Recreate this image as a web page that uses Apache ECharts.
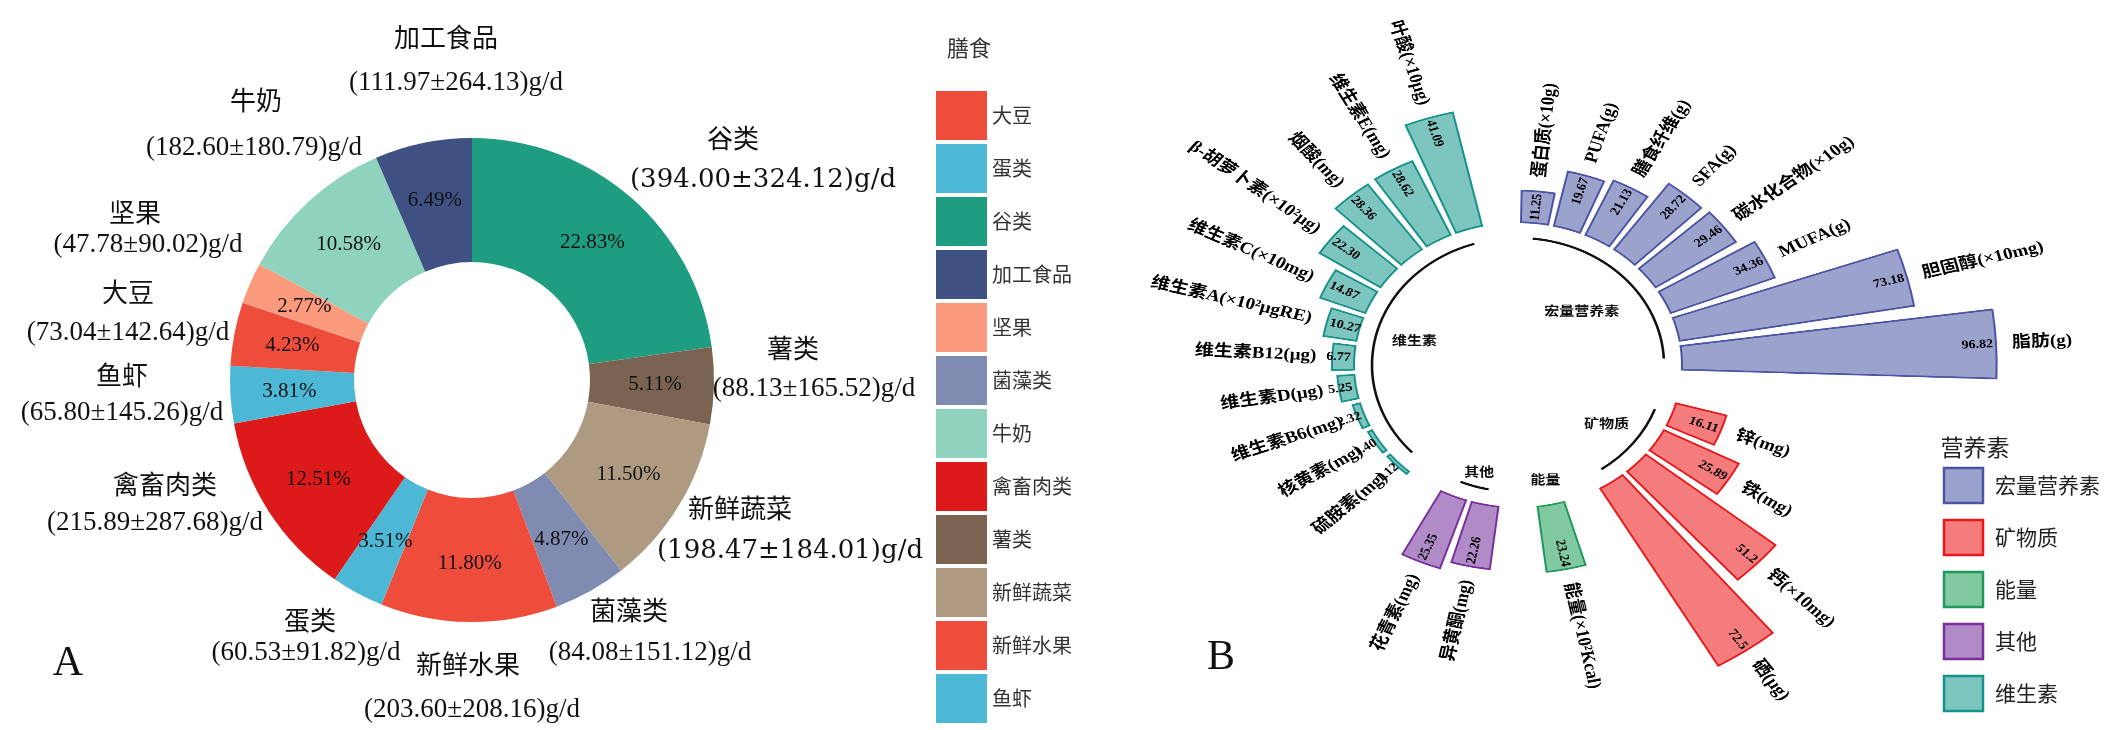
<!DOCTYPE html>
<html><head><meta charset="utf-8">
<script src="https://cdn.jsdelivr.net/npm/echarts@6/dist/echarts.min.js"></script>
<style>
html,body{margin:0;padding:0;background:#fff;overflow:hidden;width:2109px;height:730px;}
#a{position:absolute;left:0;top:0;width:2109px;height:730px;}
#b{position:absolute;left:1100px;top:-100px;width:1009px;height:930px;transform:scaleY(0.87);transform-origin:0 465px;}
</style></head><body>
<div id="a"></div><div id="b"></div>
<script>
// ---------------- Panel A data ----------------
const foodNames = ['谷类','薯类','新鲜蔬菜','菌藻类','新鲜水果','蛋类','禽畜肉类','鱼虾','大豆','坚果','牛奶','加工食品'];
const foodMeans = [394.00, 88.13, 198.47, 84.08, 203.60, 60.53, 215.89, 65.80, 73.04, 47.78, 182.60, 111.97];
const foodSDs   = [324.12, 165.52, 184.01, 151.12, 208.16, 91.82, 287.68, 145.26, 142.64, 90.02, 180.79, 264.13];
const foodLegendOrder = ['大豆','蛋类','谷类','加工食品','坚果','菌藻类','牛奶','禽畜肉类','薯类','新鲜蔬菜','新鲜水果','鱼虾'];

// ---------------- Panel B data ----------------
const macroNames = ['蛋白质(×10g)','PUFA(g)','膳食纤维(g)','SFA(g)','碳水化合物(×10g)','MUFA(g)','胆固醇(×10mg)','脂肪(g)'];
const macroValues = ['11.25','19.67','21.13','28.72','29.46','34.36','73.18','96.82'];
const mineralNames = ['锌(mg)','铁(mg)','钙(×10mg)','硒(μg)'];
const mineralValues = ['16.11','25.89','51.2','72.5'];
const energyNames = ['能量(×10²Kcal)'];
const energyValues = ['23.24'];
const otherNames = ['异黄酮(mg)','花青素(mg)'];
const otherValues = ['22.26','25.35'];
const vitaminNames = ['硫胺素(mg)','核黄素(mg)','维生素B6(mg)','维生素D(μg)','维生素B12(μg)','维生素A(×10²μgRE)','维生素C(×10mg)','β-胡萝卜素(×10²μg)','烟酸(mg)','维生素E(mg)','叶酸(×10μg)'];
const vitaminValues = ['1.12','1.40','2.32','5.25','6.77','10.27','14.87','22.30','28.36','28.62','41.09'];
const groupNames = ['宏量营养素','矿物质','能量','其他','维生素'];

// ---------------- styles / layout ----------------
const SERIF = "'Liberation Serif','Noto Sans CJK SC',serif";
const WIDESERIF = "'DejaVu Serif','Noto Sans CJK SC',serif";
const foodColors = {'谷类':'#1f9d80','薯类':'#7a6350','新鲜蔬菜':'#ad9a80','菌藻类':'#7f8bb0','新鲜水果':'#ef4d3c','蛋类':'#4db8d6','禽畜肉类':'#dd1a1a','鱼虾':'#4db8d6','大豆':'#ef4d3c','坚果':'#fc9a7e','牛奶':'#8fd3bf','加工食品':'#3f5183'};
// label anchor layout: [nameX, nameY, valueX, valueY, valueFont]
const foodLabelLayout = {
  '谷类':[733,141,763,180,"26px "+WIDESERIF], '薯类':[793,351,814,389], '新鲜蔬菜':[740,511,790,551,"26px "+WIDESERIF], '菌藻类':[629,613,650,653],
  '新鲜水果':[468,667,472,710], '蛋类':[310,623,306,653], '禽畜肉类':[165,487,155,523], '鱼虾':[122,378,122,413],
  '大豆':[128,295,128,333], '坚果':[135,215,148,245], '牛奶':[256,103,254,148], '加工食品':[446,40,456,83]
};
const groupStyle = [
  {fill:'#9ba2cb', stroke:'#4b55a3'},
  {fill:'#f47c7c', stroke:'#e8191b'},
  {fill:'#80c9a1', stroke:'#21995b'},
  {fill:'#b18bc7', stroke:'#7a2f9b'},
  {fill:'#7dc5bf', stroke:'#17928b'}
];
const groupLabelRadius = [88, 112, 136, 130, 107];

// ---------------- Panel A ----------------
const foodTotal = foodMeans.reduce((a,b)=>a+b,0);
const chartA = echarts.init(document.getElementById('a'));
const gA = [];
foodNames.forEach((n,i)=>{
  const L = foodLabelLayout[n];
  gA.push({type:'text', x:L[0], y:L[1], style:{text:n, font:"26px "+SERIF, fill:'#111', textAlign:'center', textVerticalAlign:'middle', align:'center', verticalAlign:'middle'}});
  gA.push({type:'text', x:L[2], y:L[3], style:{text:'('+foodMeans[i].toFixed(2)+'±'+foodSDs[i].toFixed(2)+')g/d', font:L[4]||("27px "+SERIF), fill:'#111', textAlign:'center', textVerticalAlign:'middle', align:'center', verticalAlign:'middle'}});
});
gA.push({type:'text', x:969, y:48, style:{text:'膳食', font:"22px 'Noto Sans CJK SC'", fill:'#333', textAlign:'center', textVerticalAlign:'middle', align:'center', verticalAlign:'middle'}});
gA.push({type:'text', x:68, y:664, style:{text:'A', font:"42px "+SERIF, fill:'#111', textAlign:'center', textVerticalAlign:'middle', align:'center', verticalAlign:'middle'}});
gA.push({type:'text', x:1221, y:658, style:{text:'B', font:"42px "+SERIF, fill:'#111', textAlign:'center', textVerticalAlign:'middle', align:'center', verticalAlign:'middle'}});
// legend B (drawn here so it is not squashed)
gA.push({type:'text', x:1975, y:447, style:{text:'营养素', font:"23px 'Noto Sans CJK SC'", fill:'#222', textAlign:'center', textVerticalAlign:'middle', align:'center', verticalAlign:'middle'}});
groupNames.forEach((n,i)=>{
  const y = 468 + i*52;
  gA.push({type:'rect', shape:{x:1944,y:y,width:39,height:35}, style:{fill:groupStyle[i].fill, stroke:groupStyle[i].stroke, lineWidth:2.5}});
  gA.push({type:'text', x:1995, y:y+17.5, style:{text:n, font:"21px 'Noto Sans CJK SC'", fill:'#222', textAlign:'left', textVerticalAlign:'middle', align:'left', verticalAlign:'middle'}});
});

chartA.setOption({
  animation:false,
  legend:{
    data: foodLegendOrder, orient:'vertical', left:931, top:86, itemWidth:51, itemHeight:49, itemGap:4,
    icon:'rect', selectedMode:false, textStyle:{fontSize:20, color:'#333', fontFamily:"'Noto Sans CJK SC'"}
  },
  series:[{
    type:'pie', center:[472,380], radius:[118,242], startAngle:90, clockwise:true, silent:true,
    data: foodNames.map((n,i)=>({name:n, value:foodMeans[i], itemStyle:{color:foodColors[n]}})),
    label:{show:true, position:'inside', fontSize:21, fontFamily:SERIF, color:'#111',
      formatter:p=>(p.value/foodTotal*100).toFixed(2)+'%'},
    labelLine:{show:false},
    emphasis:{disabled:true}
  }],
  graphic: gA
});

// ---------------- Panel B ----------------
const groups = [
  {names:macroNames, values:macroValues},
  {names:mineralNames, values:mineralValues},
  {names:energyNames, values:energyValues},
  {names:otherNames, values:otherValues},
  {names:vitaminNames, values:vitaminValues}
];
const slots = [], items = [], groupSpan = [];
groups.forEach((g,gi)=>{
  const first = slots.length;
  g.names.forEach((n,i)=>{ items.push({slot:slots.length, gi:gi, name:n, text:g.values[i]}); slots.push(n); });
  groupSpan.push([first, slots.length-1]);
  slots.push('gap'+gi);
});

const chartB = echarts.init(document.getElementById('b'), null, {devicePixelRatio:2});
const barSeries = groups.map((g,gi)=>({
  type:'bar', coordinateSystem:'polar', name:groupNames[gi], barGap:'-100%', barCategoryGap:'18%', silent:true,
  data: slots.map((_,s)=>{ const it = items.find(t=>t.slot===s && t.gi===gi); return it ? Number(it.text) : '-'; }),
  itemStyle:{color:groupStyle[gi].fill, borderColor:groupStyle[gi].stroke, borderWidth:2}
}));
const setTextStyle = (text, font, align) => ({text, font, fill:'#000', textAlign:align, align:align, textVerticalAlign:'middle', verticalAlign:'middle'});

const labelSeries = {
  type:'custom', coordinateSystem:'polar', silent:true, z:10,
  encode:{radius:0, angle:1},
  data: items.map((it,k)=>[Number(it.text), it.slot, k]),
  renderItem:(params, api)=>{
    const k = api.value(2);
    const cs = params.coordSys;
    const p = api.coord([api.value(0), api.value(1)]);
    const dx = p[0]-cs.cx, dy = p[1]-cs.cy;
    const rEnd = Math.hypot(dx,dy);
    const ux = dx/rEnd, uy = dy/rEnd;
    const right = dx > 0;
    let rot = Math.atan2(-uy, ux); if(!right) rot += Math.PI;
    const rName = rEnd + 16;
    const rVal = Math.max(rEnd - 3, cs.r0 + 28);
    return {type:'group', children:[
      {type:'text', x:cs.cx+ux*rName, y:cs.cy+uy*rName, rotation:rot,
        style:setTextStyle(items[k].name, "bold 19px "+SERIF, right?'left':'right')},
      {type:'text', x:cs.cx+ux*rVal, y:cs.cy+uy*rVal, rotation:rot,
        style:setTextStyle(items[k].text, "bold 14px "+SERIF, right?'right':'left')}
    ]};
  }
};
const groupSeries = {
  type:'custom', coordinateSystem:'polar', silent:true, z:9,
  encode:{radius:0, angle:1},
  data: groupSpan.map((sp,gi)=>[0, sp[0], gi]),
  renderItem:(params, api)=>{
    const gi = api.value(2);
    const cs = params.coordSys;
    const sp = groupSpan[gi];
    const p1 = api.coord([0, sp[0]]), p2 = api.coord([0, sp[1]]);
    const a1 = Math.atan2(p1[1]-cs.cy, p1[0]-cs.cx);
    let a2 = Math.atan2(p2[1]-cs.cy, p2[0]-cs.cx);
    if (a2 < a1) a2 += Math.PI*2;
    const mid = (a1+a2)/2;
    const R = groupLabelRadius[gi];
    const children = [];
    if (sp[1] > sp[0]) {
      children.push({type:'arc', shape:{cx:cs.cx, cy:cs.cy, r:cs.r0-18, startAngle:a1, endAngle:a2, clockwise:true},
        style:{stroke:'#111', lineWidth:2.6, fill:null}});
    }
    children.push({type:'text', x:cs.cx+R*Math.cos(mid), y:cs.cy+R*Math.sin(mid),
      style:{text:groupNames[gi], font:"bold 15px "+SERIF, fill:'#111', textAlign:'center', align:'center', textVerticalAlign:'middle', verticalAlign:'middle'}});
    return {type:'group', children};
  }
};

chartB.setOption({
  animation:false,
  polar:{center:[418,465], radius:[164,489]},
  angleAxis:{type:'category', data:slots, startAngle:90, clockwise:true, show:false,
    axisLine:{show:false}, axisTick:{show:false}, axisLabel:{show:false}, splitLine:{show:false}},
  radiusAxis:{type:'value', min:0, max:100, show:false,
    axisLine:{show:false}, axisTick:{show:false}, axisLabel:{show:false}, splitLine:{show:false}},
  series: barSeries.concat([labelSeries, groupSeries])
});
</script>
</body></html>
